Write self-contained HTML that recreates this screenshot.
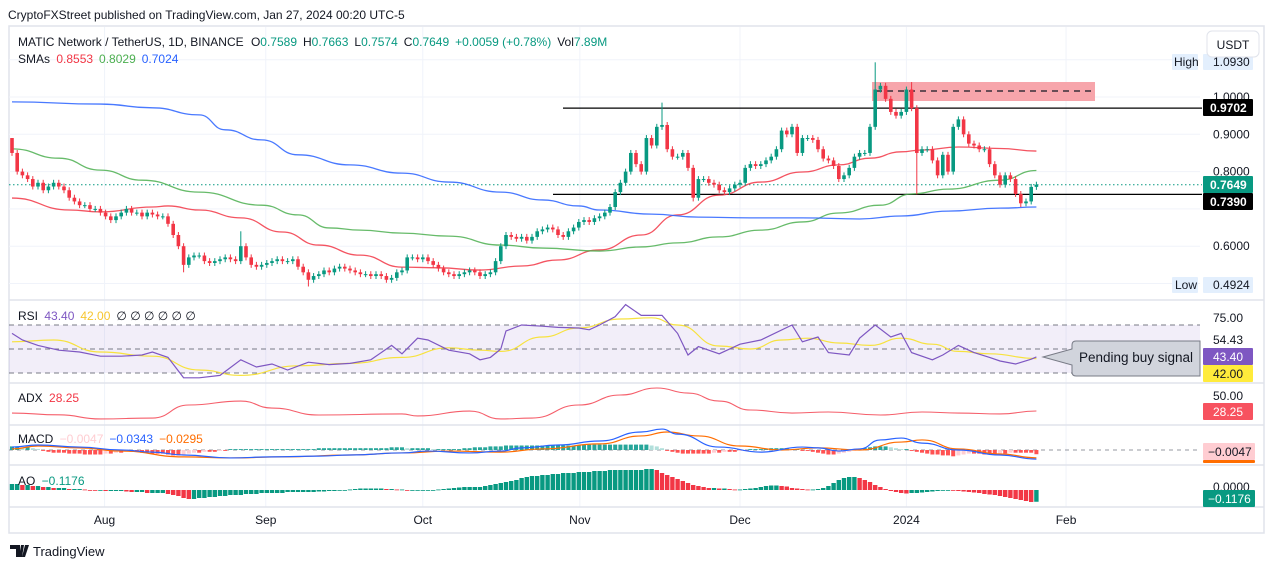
<!DOCTYPE html>
<html><head><meta charset="utf-8"><style>
body{margin:0;background:#fff;width:1273px;height:568px;overflow:hidden;font-family:"Liberation Sans",sans-serif}
svg text{font-family:"Liberation Sans",sans-serif}
</style></head><body>
<svg id="c" width="1273" height="568" viewBox="0 0 1273 568" xmlns="http://www.w3.org/2000/svg">
<text x="8" y="19" font-size="12" fill="#131722">CryptoFXStreet published on TradingView.com, Jan 27, 2024 00:20 UTC-5</text>
<rect x="9" y="26" width="1255" height="507" fill="none" stroke="#e0e3eb" stroke-width="1.5"/>
<g id="grid"></g>
<g id="main"></g>
<g id="ind"></g>
<g id="axis"></g>
<g font-size="12">
<text x="18" y="46" fill="#131722">MATIC Network / TetherUS, 1D, BINANCE <tspan dx="4">O</tspan><tspan fill="#089981">0.7589</tspan><tspan dx="6">H</tspan><tspan fill="#089981">0.7663</tspan><tspan dx="6">L</tspan><tspan fill="#089981">0.7574</tspan><tspan dx="6">C</tspan><tspan fill="#089981">0.7649</tspan><tspan dx="6" fill="#089981">+0.0059 (+0.78%)</tspan><tspan dx="6">Vol</tspan><tspan fill="#089981">7.89M</tspan></text>
<text x="18" y="63" fill="#131722">SMAs <tspan fill="#f23645" dx="3">0.8553</tspan><tspan fill="#4caf50" dx="6">0.8029</tspan><tspan fill="#2962ff" dx="6">0.7024</tspan></text>
</g>
<g><rect x="1207" y="31" width="52" height="26" rx="5" fill="#fff" stroke="#e0e3eb"/><text x="1233" y="49" font-size="12" text-anchor="middle" fill="#131722">USDT</text></g>
<g><path d="M10 545h10v12h-4v-8h-6z M21 545h3l-2 12h-3z M25 545h4l-4 12h-3z" fill="#131722"/><text x="33" y="556" font-size="13" fill="#131722">TradingView</text></g>
</svg>
<script>
// ---------- DATA ----------
const closes=[0.85,0.80,0.79,0.78,0.76,0.77,0.75,0.76,0.77,0.76,
0.75,0.73,0.72,0.71,0.71,0.70,0.70,0.69,0.68,0.67,
0.68,0.69,0.70,0.69,0.69,0.68,0.69,0.685,0.68,0.68,
0.66,0.63,0.60,0.55,0.57,0.575,0.575,0.56,0.555,0.56,
0.565,0.57,0.565,0.56,0.60,0.57,0.55,0.545,0.55,0.555,
0.56,0.565,0.56,0.56,0.565,0.545,0.53,0.51,0.52,0.525,
0.535,0.53,0.54,0.545,0.54,0.535,0.53,0.525,0.525,0.52,
0.525,0.52,0.51,0.515,0.53,0.535,0.57,0.57,0.565,0.57,
0.56,0.55,0.54,0.53,0.525,0.52,0.525,0.53,0.535,0.53,
0.52,0.525,0.53,0.56,0.60,0.63,0.625,0.62,0.625,0.615,
0.625,0.64,0.645,0.65,0.645,0.63,0.625,0.64,0.65,0.665,
0.67,0.665,0.675,0.68,0.69,0.705,0.745,0.77,0.80,0.85,
0.82,0.80,0.89,0.87,0.92,0.925,0.86,0.84,0.84,0.85,
0.81,0.73,0.78,0.78,0.77,0.765,0.75,0.745,0.755,0.765,
0.77,0.81,0.82,0.815,0.82,0.83,0.84,0.86,0.91,0.90,
0.92,0.85,0.89,0.89,0.885,0.86,0.835,0.83,0.815,0.78,
0.79,0.81,0.84,0.85,0.85,0.92,1.02,1.03,0.995,0.96,
0.95,0.96,1.02,0.97,0.85,0.86,0.86,0.83,0.79,0.845,
0.80,0.92,0.94,0.90,0.875,0.87,0.86,0.86,0.82,0.79,
0.765,0.79,0.78,0.74,0.715,0.72,0.759,0.7649];
const firstOpen=0.89;
const wickHighIdx=[0,44,125,166,173];
const wickHighVal=[0.89,0.64,0.985,1.093,1.04];
const wickLowIdx=[33,57,131,174,194];
const wickLowVal=[0.53,0.492,0.72,0.739,0.705];
const smaRedIdx=[0,11,17,27,30,36,44,52,59,67,75,82,90,98,105,113,121,128,136,144,152,159,165,171,175,182,190,197];
const smaRedVal=[0.729,0.697,0.692,0.705,0.708,0.697,0.676,0.638,0.603,0.576,0.544,0.542,0.536,0.547,0.563,0.590,0.630,0.684,0.737,0.772,0.799,0.818,0.836,0.853,0.858,0.866,0.862,0.855];
const smaGreenIdx=[0,9,17,25,36,48,55,61,67,75,84,94,102,113,121,128,136,144,152,159,167,173,180,190,197];
const smaGreenVal=[0.861,0.836,0.804,0.777,0.745,0.710,0.684,0.649,0.643,0.635,0.627,0.603,0.595,0.587,0.598,0.609,0.625,0.643,0.665,0.689,0.710,0.740,0.753,0.777,0.803];
const smaBlueIdx=[0,17,27,36,41,48,55,65,75,84,94,102,109,113,123,132,142,152,163,171,180,190,197];
const smaBlueVal=[0.987,0.981,0.971,0.952,0.912,0.885,0.845,0.818,0.796,0.772,0.745,0.724,0.708,0.697,0.686,0.678,0.676,0.676,0.673,0.681,0.694,0.702,0.705];
const priceTicks=["1.0000","0.9000","0.8000","0.6000"];
const priceTickVals=[1.0,0.9,0.8,0.6];
const rsiIdx=[0,2,5,9,13,17,21,25,27,30,33,36,40,44,47,50,53,57,61,65,69,73,75,78,80,84,88,90,92,94,95,98,102,105,109,111,113,116,118,121,125,128,130,132,136,140,144,150,152,155,157,161,163,166,169,171,173,177,179,182,185,188,190,193,196,197];
const rsiVal=[63,57.5,53,49,47.5,44,44,45,47.5,43,26,26,28,41,35,37.5,32.5,39,37,38,41,53,46,59,57.5,49,46,41,43,50,65,70,69,68,67.5,66,70,77,87,78,78,63,45,52,46,54,57.5,70,56,60,47,45,59,70,60,63,47,41,45,53,47,43,40,37.5,41.5,43.4];
const rsiMaIdx=[0,8,17,27,36,44,55,65,75,84,90,94,102,109,117,123,128,136,142,148,153,159,165,171,177,182,188,197];
const rsiMaVal=[56,57.5,47.5,44,32.5,28,36,38,43,51,49,48,60,67.5,75,76,70,52.5,50,57.5,59,55,53,59,54,48,46,42];
const adxIdx=[0,9,17,27,34,44,50,59,75,78,88,94,100,109,117,124,130,136,142,150,157,167,175,182,190,197];
const adxVal=[25.5,23,17.4,18.7,36.4,41.8,32.3,22.8,24.2,21.5,28.2,17.4,18.7,36.4,50,59.5,52.7,41.8,29.6,25.5,26.9,22.8,26.9,25.5,24.2,28.25];
const macdIdx=[0,5,13,21,27,33,42,50,59,65,75,80,88,94,98,105,113,121,125,128,136,144,152,155,159,163,167,171,175,182,190,197];
const macdVal=[0.011,0.019,0.011,0,-0.008,-0.019,-0.030,-0.026,-0.023,-0.019,-0.011,-0.004,-0.011,-0.004,0.008,0.019,0.034,0.068,0.079,0.060,0.011,-0.008,0.011,0.008,-0.004,0.004,0.038,0.045,0.026,0,-0.019,-0.0343];
const signalIdx=[0,5,13,21,33,42,52,65,75,84,94,102,113,121,126,132,140,148,155,163,171,175,182,190,197];
const signalVal=[0.004,0.015,0.008,-0.004,-0.026,-0.030,-0.026,-0.019,-0.011,-0.004,-0.008,0.004,0.023,0.053,0.068,0.053,0.015,0,0.008,0,0.030,0.038,0.004,-0.015,-0.0295];
const macdHist=[4,4,3,3,2,1,-1,-2,-3,-3,-3,-4,-4,-4,-5,-5,-5,-5,-4,-4,-3,-3,-2,-2,-2,-3,-3,-4,-4,-4,-5,-6,-6,-5,-4,-3,-3,-2,-2,-2,-1,-1,1,1,1,1,1,1,1,1,1,1,1,1,1,1,1,1,1,2,2,2,2,2,2,2,2,2,2,2,2,2,2,3,3,3,2,2,2,2,2,1,1,1,1,1,1,2,2,3,3,3,4,4,4,5,5,5,5,5,5,5,5,5,5,5,5,5,5,5,6,6,6,6,6,6,6,6,6,6,6,6,6,5,4,2,-1,-2,-3,-4,-4,-4,-4,-4,-4,-3,-3,-2,-2,-2,-1,-1,1,1,1,1,2,2,2,2,1,1,-1,-1,-2,-3,-4,-5,-5,-4,-3,-2,-1,1,2,3,4,4,4,3,2,1,1,-1,-2,-3,-4,-5,-5,-6,-6,-7,-6,-5,-4,-4,-4,-5,-5,-5,-4,-4,-3,-3,-3,-3,-3,-4.7];
const aoVals=[6,6,5,5,4,4,3,3,2,2,2,1,1,1,0.5,0,-0.5,-0.5,-1,-1,-1,-1,-1.5,-2,-2,-2,-3,-3,-3,-3,-4,-5,-6,-8,-9,-9,-8,-8,-7,-7,-6,-6,-5,-5,-5,-4,-4,-4,-3,-3,-3,-3,-3,-2,-2,-2,-2,-2,-2,-1.5,-1.5,-1,-1,-0.5,-0.5,0.5,1,1.5,1.5,1.5,1.5,1.5,1,1,0.5,0.5,-0.5,-0.5,-0.5,0,0,0,0.5,1,1.5,2,2.5,3,3,3,3,4,5,6,7,8,9,10,12,13,14,14,15,15,16,16,17,17,17,18,18,18,19,19,19,20,20,20,20,20,20,20,21,21,20,17,15,13,11,9,7,5,4,3,2,2,1.5,1.5,1,0.5,0.5,1,1.5,2,3,4,4.5,4.5,4,3.5,2,1.5,1,0.5,0.5,1,2,4,7,10,12,13,13,12,10,8,5,3,1,-1,-2,-3,-3.5,-3,-3,-2.5,-2,-1.5,-1,-0.5,-0.3,-0.5,-1,-1.5,-2,-2.5,-3,-4,-4.5,-5,-6,-7,-8,-9,-10,-11,-12,-11.76];
const monthLabels=["Aug","Sep","Oct","Nov","Dec","2024","Feb"];
const monthIdx=[17.8,48.8,79,109.2,140,172,202.7];
// ---------- SCALES ----------
const NS="http://www.w3.org/2000/svg";
const X=i=>12+i*5.2;
const YP=p=>97+(1-p)*373;
const YR=v=>409-1.2*v;
const YA=v=>395+(50-v)*0.7356;
const YM=v=>450-v*265;
const YH=v=>450-v*0.9;
const YO=v=>490-v*1.0;
function mk(t,a,parent){const e=document.createElementNS(NS,t);for(const k in a)e.setAttribute(k,a[k]);parent.appendChild(e);return e;}
function smooth(idx,val,fy){let d="";for(let k=0;k<idx.length;k++){const x=X(idx[k]),y=fy(val[k]);if(k==0)d+="M"+x+" "+y;else{const px=X(idx[k-1]),py=fy(val[k-1]);const mx=(px+x)/2;d+=" C"+mx+" "+py+" "+mx+" "+y+" "+x+" "+y;}}return d;}
function poly(idx,val,fy){return idx.map((v,k)=>(k?"L":"M")+X(v)+" "+fy(val[k])).join(" ");}
const grid=document.getElementById('grid'),main=document.getElementById('main'),ind=document.getElementById('ind'),axis=document.getElementById('axis');
// grid
monthIdx.forEach((m,k)=>{const l=mk('line',{x1:X(m),x2:X(m),y1:27,y2:507,stroke:'#f0f3fa'},grid);});
priceTickVals.concat([0.7,0.5,1.1]).forEach(p=>{const l=mk('line',{x1:9,x2:1200,y1:YP(p),y2:YP(p),stroke:'#f0f3fa'},grid);});
[300,383,425,465,507].forEach(y=>{const l=mk('line',{x1:9,x2:1264,y1:y,y2:y,stroke:'#e0e3eb',"stroke-width":1.5},grid);});
// zone and lines
let z=mk('rect',{x:872,y:82,width:223,height:19,fill:'#f7a5ab'},main);
z=mk('line',{x1:876,x2:1095,y1:91,y2:91,stroke:'#131722',"stroke-dasharray":"6 5","stroke-width":1.2},main);
z=mk('line',{x1:563,x2:1202,y1:YP(0.9702),y2:YP(0.9702),stroke:'#000',"stroke-width":1.3},main);
z=mk('line',{x1:553,x2:1202,y1:YP(0.739),y2:YP(0.739),stroke:'#000',"stroke-width":1.3},main);
z=mk('line',{x1:9,x2:1202,y1:YP(0.7649),y2:YP(0.7649),stroke:'#089981',"stroke-dasharray":"1.5 2.5"},main);
// SMAs
[[smaRedIdx,smaRedVal,'#f23645','sma-50'],[smaGreenIdx,smaGreenVal,'#4caf50','sma-100'],[smaBlueIdx,smaBlueVal,'#2962ff','sma-200']].forEach(s=>{const p=mk('path',{d:smooth(s[0],s[1],YP),fill:'none',stroke:s[2],"stroke-width":1.3,opacity:0.85},main);});
// candles
closes.forEach((c,i)=>{const o=i?closes[i-1]:firstOpen;const up=c>=o;const col=up?'#089981':'#f23645';
 let hi=Math.max(o,c)+0.008,lo=Math.min(o,c)-0.008;const hk=wickHighIdx.indexOf(i);if(hk>=0)hi=wickHighVal[hk];const lk=wickLowIdx.indexOf(i);if(lk>=0)lo=wickLowVal[lk];
 const g=mk('g',{},main);
 mk('line',{x1:X(i),x2:X(i),y1:YP(hi),y2:YP(lo),stroke:col,"stroke-width":1},g);
 const t=Math.min(YP(o),YP(c));mk('rect',{x:X(i)-1.8,y:t,width:3.6,height:Math.max(1,Math.abs(YP(o)-YP(c))),fill:col},g);});
// RSI
z=mk('rect',{x:9,y:YR(70),width:1191,height:YR(30)-YR(70),fill:'#7e57c2',opacity:0.1},ind);
[70,50,30].forEach(v=>{const l=mk('line',{x1:9,x2:1200,y1:YR(v),y2:YR(v),stroke:'#787b86',"stroke-dasharray":"5 4"},ind);});
z=mk('path',{d:smooth(rsiMaIdx,rsiMaVal,YR),fill:'none',stroke:'#f7e23e',"stroke-width":1.2},ind);
z=mk('path',{d:poly(rsiIdx,rsiVal,YR),fill:'none',stroke:'#7e57c2',"stroke-width":1.2},ind);
// ADX
z=mk('path',{d:smooth(adxIdx,adxVal,YA),fill:'none',stroke:'#f23645',"stroke-width":1.1,opacity:0.8},ind);
// MACD
z=mk('line',{x1:9,x2:1200,y1:450,y2:450,stroke:'#9598a1',"stroke-dasharray":"4 4"},ind);
macdHist.forEach((v,i)=>{const prev=i?macdHist[i-1]:v;const col=v>=0?(v>=prev?'#26a69a':'#b2dfdb'):(v<=prev?'#ff5252':'#ffcdd2');
 const r=mk('rect',{x:X(i)-2,y:Math.min(450,YH(v)),width:4,height:Math.abs(YH(v)-450),fill:col},ind);});
z=mk('path',{d:smooth(signalIdx,signalVal,YM),fill:'none',stroke:'#ff6d00',"stroke-width":1.2},ind);
z=mk('path',{d:smooth(macdIdx,macdVal,YM),fill:'none',stroke:'#2962ff',"stroke-width":1.2},ind);
// AO
aoVals.forEach((v,i)=>{const prev=i?aoVals[i-1]:v;const col=v>=prev?'#089981':'#f23645';
 const r=mk('rect',{x:X(i)-2.2,y:Math.min(490,YO(v)),width:4.4,height:Math.max(0.8,Math.abs(YO(v)-490)),fill:col},ind);});
// axes labels
function txt(x,y,s,attrs,name){const t=mk('text',Object.assign({x:x,y:y,"font-size":12,fill:'#131722'},attrs||{}),axis);t.textContent=s;return t;}
function box(x,y,w,h,fill,name){const r=mk('rect',{x:x,y:y,width:w,height:h,fill:fill,rx:1},axis);}
priceTicks.forEach((s,k)=>txt(1213,YP(priceTickVals[k])+4,s,{},'price-tick'));
monthLabels.forEach((s,k)=>txt(X(monthIdx[k]),524,s,{"text-anchor":"middle"},'date-tick'));
box(1172,54,26,16,'#e3effd','high-tag');txt(1174,66,'High',{},'high-label');box(1203,54,50,16,'#e3effd','high-value-box');txt(1213,66,'1.0930',{},'high-value');
box(1172,277,26,16,'#e3effd','low-tag');txt(1175,289,'Low',{},'low-label');box(1203,277,50,16,'#e3effd','low-value-box');txt(1213,289,'0.4924',{},'low-value');
box(1203,99,50,17,'#000','resistance-price-box');txt(1210,112,'0.9702',{fill:'#fff',"font-weight":'bold'},'resistance-price');
box(1203,176,50,17,'#089981','last-price-box');txt(1210,189,'0.7649',{fill:'#fff',"font-weight":'bold'},'last-price');
box(1203,193,50,17,'#000','support-price-box');txt(1210,206,'0.7390',{fill:'#fff',"font-weight":'bold'},'support-price');
txt(1213,322,'75.00',{},'rsi-tick');txt(1213,344,'54.43',{},'rsi-tick');
box(1203,348,50,17,'#7e57c2','rsi-value-box');txt(1213,361,'43.40',{fill:'#fff'},'rsi-value');
box(1203,365,50,17,'#ffeb3b','rsi-ma-box');txt(1213,378,'42.00',{},'rsi-ma-value');
txt(1213,400,'50.00',{},'adx-tick');box(1203,403,50,17,'#f7525f','adx-value-box');txt(1213,416,'28.25',{fill:'#fff'},'adx-value');
box(1203,443,52,17,'#ffcdd2','macd-value-box');txt(1208,456,'\u22120.0047',{},'macd-value');box(1203,460,52,3,'#ff6d00','signal-value-box');
txt(1213,491,'0.0000',{},'ao-tick');box(1203,490,52,17,'#089981','ao-value-box');txt(1208,503,'\u22120.1176',{fill:'#fff'},'ao-value');
// callout
z=mk('path',{d:'M1043 357 L1072 349 L1072 345 Q1072 341 1076 341 L1200 341 L1200 376 L1076 376 Q1072 376 1072 372 L1072 365 Z',fill:'#d1d4dc',stroke:'#787b86',"stroke-width":1},axis);
txt(1136,362,'Pending buy signal',{"text-anchor":"middle","font-size":13.5},'callout-text');
// pane legends
let t=txt(18,320,'',{},'rsi-legend');t.innerHTML='RSI <tspan fill="#7e57c2" dx="3">43.40</tspan><tspan fill="#f7c62f" dx="6">42.00</tspan><tspan dx="6">\u2205 \u2205 \u2205 \u2205 \u2205 \u2205</tspan>';
t=txt(18,402,'',{},'adx-legend');t.innerHTML='ADX <tspan fill="#f23645" dx="3">28.25</tspan>';
t=txt(18,443,'',{},'macd-legend');t.innerHTML='MACD <tspan fill="#ffcdd2" dx="3">\u22120.0047</tspan><tspan fill="#2962ff" dx="6">\u22120.0343</tspan><tspan fill="#ff6d00" dx="6">\u22120.0295</tspan>';
t=txt(18,485,'',{},'ao-legend');t.innerHTML='AO <tspan fill="#089981" dx="3">\u22120.1176</tspan>';
</script>
</body></html>
